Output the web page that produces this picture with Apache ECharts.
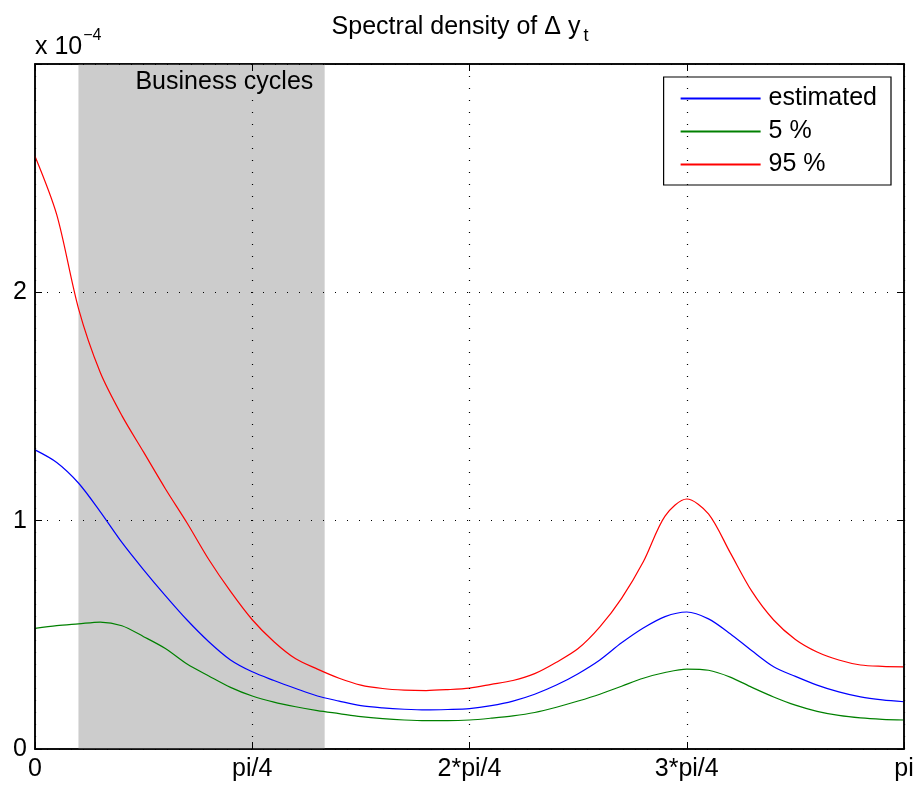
<!DOCTYPE html>
<html>
<head>
<meta charset="utf-8">
<script src="https://cdn.jsdelivr.net/npm/echarts@6/dist/echarts.min.js"></script>
<style>
  html, body { margin: 0; padding: 0; background: #fff; }
  #chart { width: 920px; height: 793px; }
</style>
</head>
<body>
<div id="chart"></div>
<script>
// frequency grid (radians), step pi/40
const freq = [];
for (let i = 0; i <= 40; i++) freq.push(i * Math.PI / 40);

// spectral density, in units of 1e-4
const estimated = [1.31, 1.255, 1.165, 1.04, 0.905, 0.785, 0.672, 0.565, 0.47, 0.39,
  0.338, 0.30, 0.265, 0.232, 0.21, 0.19, 0.18, 0.174, 0.171, 0.173,
  0.177, 0.19, 0.21, 0.24, 0.28, 0.33, 0.39, 0.465, 0.53, 0.58,
  0.60, 0.57, 0.505, 0.43, 0.36, 0.318, 0.28, 0.25, 0.228, 0.215, 0.207];
const lower5 = [0.528, 0.54, 0.548, 0.556, 0.54, 0.492, 0.44, 0.372, 0.32, 0.27,
  0.232, 0.205, 0.185, 0.168, 0.155, 0.142, 0.133, 0.127, 0.124, 0.124,
  0.127, 0.135, 0.145, 0.16, 0.183, 0.21, 0.24, 0.275, 0.31, 0.335,
  0.35, 0.345, 0.315, 0.27, 0.228, 0.192, 0.165, 0.147, 0.136, 0.13, 0.127];
const upper95 = [2.596, 2.34, 1.93, 1.65, 1.46, 1.30, 1.14, 0.99, 0.83, 0.69,
  0.566, 0.47, 0.395, 0.35, 0.31, 0.28, 0.265, 0.258, 0.256, 0.26,
  0.267, 0.283, 0.30, 0.33, 0.38, 0.44, 0.535, 0.66, 0.82, 1.02,
  1.095, 1.03, 0.86, 0.69, 0.565, 0.48, 0.425, 0.39, 0.368, 0.362, 0.36];

const xTickLabels = ['0', 'pi/4', '2*pi/4', '3*pi/4', 'pi'];
const businessCycles = [2 * Math.PI / 40, 2 * Math.PI / 6];

const font = 'Liberation Sans, Arial, Helvetica, sans-serif';
const fs = 25;
const toPairs = arr => arr.map((v, i) => [freq[i], v]);

let myChart = echarts.init(document.getElementById('chart'));

const axisLine = () => ({ show: true, onZero: false, lineStyle: { color: '#000', width: 1.5 } });
const tickIn = () => ({ show: true, inside: true, length: 7, lineStyle: { color: '#000', width: 1 } });
const dotted = () => ({ show: true, lineStyle: { color: '#000', type: [1, 11], width: 1.2 } });

let option = {
  animation: false,
  backgroundColor: '#fff',
  textStyle: { fontFamily: font },
  title: [
    {
      text: '{a|Spectral density of Δ y}{b|t}',
      left: 'center',
      top: 4,
      textStyle: {
        rich: {
          a: { fontSize: fs, fontWeight: 'normal', color: '#000', fontFamily: font },
          b: { fontSize: 18, fontWeight: 'normal', color: '#000', fontFamily: font, padding: [18, 0, 0, 3] }
        }
      }
    },
    {
      text: '{a|x 10}{b|−4}',
      left: 30,
      top: 22,
      textStyle: {
        rich: {
          a: { fontSize: fs, fontWeight: 'normal', color: '#000', fontFamily: font, padding: [8, 0, 0, 0] },
          b: { fontSize: 16, fontWeight: 'normal', color: '#000', fontFamily: font, padding: [0, 0, 16, 1] }
        }
      }
    }
  ],
  legend: {
    orient: 'vertical',
    right: 29,
    top: 77,
    padding: [9, 14, 8, 16],
    itemGap: 8,
    itemWidth: 80,
    itemHeight: 14,
    borderColor: '#000',
    borderWidth: 1.2,
    borderRadius: 0,
    backgroundColor: '#fff',
    itemStyle: { opacity: 0 },
    textStyle: { fontSize: fs, color: '#000', fontFamily: font, padding: [0, 0, 0, 3] },
    data: ['estimated', '5 %', '95 %']
  },
  grid: { left: 35, right: 16, top: 64, bottom: 44, show: true, borderColor: '#000', borderWidth: 1.5 },
  xAxis: [
    {
      type: 'value', min: 0, max: Math.PI, interval: Math.PI / 4, z: 5,
      axisLine: axisLine(), axisTick: tickIn(), splitLine: dotted(),
      axisLabel: {
        fontSize: fs, color: '#000', fontFamily: font, margin: 8, showMaxLabel: true,
        formatter: v => xTickLabels[Math.round(v / (Math.PI / 4))]
      }
    },
    {
      type: 'value', position: 'top', min: 0, max: Math.PI, interval: Math.PI / 4, z: 5,
      axisLine: axisLine(), axisTick: tickIn(), splitLine: { show: false }, axisLabel: { show: false }
    }
  ],
  yAxis: [
    {
      type: 'value', min: 0, max: 3, interval: 1, z: 5,
      axisLine: axisLine(), axisTick: tickIn(), splitLine: dotted(),
      axisLabel: {
        fontSize: fs, color: '#000', fontFamily: font, margin: 8,
        formatter: v => (v === 3 ? '' : String(v))
      }
    },
    {
      type: 'value', position: 'right', min: 0, max: 3, interval: 1, z: 5,
      axisLine: axisLine(), axisTick: tickIn(), splitLine: { show: false }, axisLabel: { show: false }
    }
  ],
  series: [
    {
      name: 'estimated', type: 'line', symbol: 'none', smooth: 0.3,
      lineStyle: { color: '#0000ff', width: 1.2 }, itemStyle: { color: '#0000ff' },
      data: toPairs(estimated),
      markArea: {
        silent: true,
        itemStyle: { color: '#cccccc' },
        label: {
          show: true, position: 'insideTopLeft', offset: [52, 1],
          fontSize: fs, color: '#000', fontFamily: font
        },
        data: [[{ name: 'Business cycles', xAxis: businessCycles[0] }, { xAxis: businessCycles[1] }]]
      }
    },
    {
      name: '5 %', type: 'line', symbol: 'none', smooth: 0.3,
      lineStyle: { color: '#008000', width: 1.2 }, itemStyle: { color: '#008000' },
      data: toPairs(lower5)
    },
    {
      name: '95 %', type: 'line', symbol: 'none', smooth: 0.3,
      lineStyle: { color: '#ff0000', width: 1.2 }, itemStyle: { color: '#ff0000' },
      data: toPairs(upper95)
    }
  ]
};
myChart.setOption(option);
</script>
</body>
</html>
